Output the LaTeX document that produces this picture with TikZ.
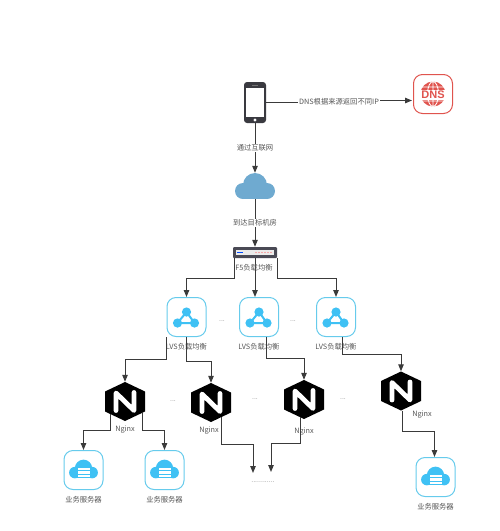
\documentclass[tikz,border=0pt]{standalone}
\usepackage{fontspec}
\setmainfont{Noto Sans CJK SC}
\newfontfamily\logofont{Liberation Sans}
\usetikzlibrary{arrows.meta,positioning,calc}
\definecolor{inkwire}{HTML}{3A3A3A}
\definecolor{inktext}{HTML}{555555}
\definecolor{inkcyan}{HTML}{3FC1F4}
\definecolor{inkframe}{HTML}{66CBEC}
\definecolor{inkcloud}{HTML}{6FAAD0}
\definecolor{inkred}{HTML}{E0544E}
\definecolor{inkdark}{HTML}{3A3A40}
\definecolor{inkswitch}{HTML}{4A4A55}
\tikzset{link/.style={inkwire,line width=1pt},arrowlink/.style={link,-{Triangle[length=7pt,width=5.5pt]}},caption/.style={text=inktext,font=\fontsize{7.3}{8}\selectfont,inner sep=0pt},wirelabel/.style={caption,fill=white,inner sep=1pt},gap/.style={text=black!45,font=\fontsize{7}{8}\selectfont,inner sep=0pt},iconbox/.style={rectangle,draw=inkframe,fill=white,line width=1pt,rounded corners=9pt,minimum size=39pt,inner sep=0pt},hexbox/.style={rectangle,minimum width=40pt,minimum height=39pt,inner sep=0pt},pics/blob/.style={code={\fill (0,-1) circle (12pt); \fill (-12,5) circle (8pt); \fill (12,5) circle (8pt); \fill (-12,3) rectangle (12,13);}},pics/lvsmark/.style={code={\draw[inkcyan,line width=2pt] (0,-5)--(-9,6)--(8,6)--cycle; \foreach \p in {(0,-5),(-9,6),(8,6)}{\fill[inkcyan] \p circle (4.6pt);}}},pics/srvmark/.style={code={\pic[inkcyan,scale=.72] at (0,-1) {blob}; \foreach \s in {-1,2.5,6}{\fill[white] (-6,\s-1.2) rectangle (6,\s+1.2);}}},pics/nmark/.style={code={\fill[black] (0,-19.5)--(20,-10)--(20,10)--(0,19.5)--(-20,10)--(-20,-10)--cycle; \draw[white,line width=4.8pt,line join=round,line cap=round] (-9,9)--(-9,-8.5)--(9,9)--(9,-9);}}}
\begin{document}
\begin{tikzpicture}[x=1pt,y=-1pt]
\useasboundingbox (0,0) rectangle (500,531);
% client and dns
\node[rectangle,fill=inkdark,rounded corners=3pt,minimum width=22pt,minimum height=41pt,inner sep=0pt] (phone) at (255,102.5) {};
\fill[white] (246,88) rectangle (264,116.5);
\fill[white] (255,120) circle (1.6pt);
\fill[black!55] (252,85) rectangle (258,85.8);
\node[iconbox,draw=inkred] (dns) at (433,94) {};
\fill[inkred] (433,94) circle (12.5pt);
\draw[white,line width=.8pt] (433,94) ellipse (5.5pt and 12.5pt) (433,81.5)--(433,106.5) (421,87)--(445,87) (421,101)--(445,101);
\fill[white] (419,89.5) rectangle (447,99.5);
\node[text=inkred,font=\logofont\bfseries\fontsize{11}{11}\selectfont,inner sep=0pt] (dnsname) at (433,94.5) {DNS};
\node[wirelabel] (dnsnote) at (339,102) {DNS根据来源返回不同IP};
\coordinate (dnsin) at (412,100.5);
\draw[link] (phone.east |- dnsnote)--(dnsnote.west);
\draw[arrowlink] (dnsnote.east |- dnsin)--(dnsin);
% cloud and f5
\node[minimum width=40pt,minimum height=26pt,inner sep=0pt] (net) at (255,186) {};
\pic[inkcloud] at (255,186) {blob};
\draw[arrowlink] (phone.south)--(net.north) node[wirelabel,pos=.5] (netnote) {通过互联网};
\node[rectangle,fill=inkswitch,rounded corners=1pt,minimum width=44pt,minimum height=11pt,inner sep=0pt] (ffive) at (255,252.5) {};
\fill[black!8] (236,250) rectangle (274,255);
\fill[blue!70!cyan] (237,251.6) rectangle (243,253.4);
\foreach \d in {256,259,262,265,268,271}{\fill[red!60] (\d,252.5) circle (.6pt);}
\draw[arrowlink] (net.south)--(ffive.north) node[wirelabel,pos=.5] (roomnote) {到达目标机房};
% lvs row
\foreach \n/\x in {lvsA/186.5,lvsB/259,lvsC/336}{
\node[iconbox] (\n) at (\x,317) {};
\pic at (\x,317) {lvsmark};
\node[caption] (\n note) at (\x,347) {LVS负载均衡};
}
\draw[arrowlink] ([xshift=2pt]ffive.south west)--++(0,20)-|(lvsA.north);
\draw[arrowlink] (ffive.south)--(ffive.south |- lvsB.north);
\draw[arrowlink] (ffive.south east)--++(0,20)-|(lvsC.north);
\node[caption] (ffivenote) at (254,268) {F5负载均衡};
\node[gap] (gapA) at (222,321) {...};
\node[gap] (gapB) at (293,321) {...};
% nginx row
\foreach \n/\x/\y/\lx/\ly in {ngA/125/401.5/125/430,ngB/211/402.5/209/431,ngC/304/399.5/304/432,ngD/401/391/422/415}{
\node[hexbox] (\n) at (\x,\y) {};
\pic at (\x,\y) {nmark};
\node[caption] (\n note) at (\lx,\ly) {Nginx};
}
\draw[arrowlink] (lvsA.south west)--++(0,22)-|(ngA.north);
\draw[arrowlink] (lvsA.south)--++(0,24)-|(ngB.north);
\draw[arrowlink] ([xshift=7pt]lvsB.south)--++(0,21)-|(ngC.north);
\draw[arrowlink] ([xshift=6pt]lvsC.south)--++(0,17)-|(ngD.north);
\node[gap] (gapC) at (173,401) {...};
\node[gap] (gapD) at (255,399) {...};
\node[gap] (gapE) at (343,399) {...};
% servers
\foreach \n/\x/\y in {srvA/83.5/470,srvB/164.5/470,srvC/435.5/477}{
\node[iconbox] (\n) at (\x,\y) {};
\pic at (\x,\y) {srvmark};
\node[caption] (\n note) at (\x,\y+30) {业务服务器};
}
\draw[arrowlink] ([xshift=-15pt,yshift=7pt]ngA.south)--++(0,16)-|(srvA.north);
\draw[arrowlink] ([xshift=17pt,yshift=8pt]ngA.south)--++(0,17)-|(srvB.north);
\draw[arrowlink] ([xshift=1pt]ngD.south)--++(0,21)-|([xshift=-1pt]srvC.north);
\node[gap] (moreservers) at (263,482) {............};
\coordinate (moreA) at (253,473);
\coordinate (moreB) at (271,472);
\draw[arrowlink] ([xshift=10pt,yshift=5pt]ngB.south)--++(0,27.5)-|(moreA);
\draw[arrowlink] ([xshift=-4pt,yshift=2pt]ngC.south)--++(0,26.5)-|(moreB);
\end{tikzpicture}
\end{document}
